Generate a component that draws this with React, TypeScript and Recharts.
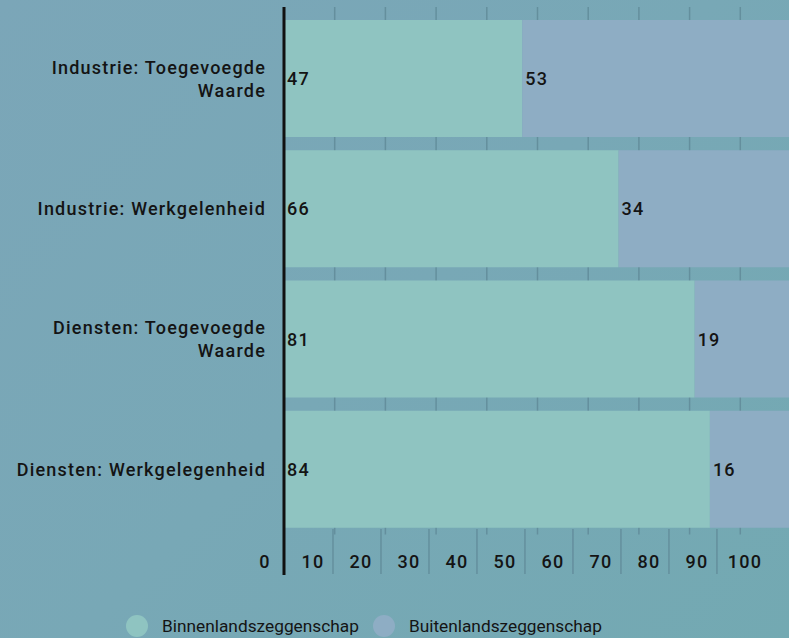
import React from 'react';
import { BarChart, Bar, XAxis, YAxis, CartesianGrid, LabelList } from 'recharts';

const categories = [
  'Industrie: Toegevoegde Waarde',
  'Industrie: Werkgelenheid',
  'Diensten: Toegevoegde Waarde',
  'Diensten: Werkgelegenheid',
];
const binnenland = [47, 66, 81, 84];
const buitenland = [53, 34, 19, 16];
const xTicks = [0, 10, 20, 30, 40, 50, 60, 70, 80, 90, 100];
const seriesNames = ['Binnenlandszeggenschap', 'Buitenlandszeggenschap'];
const seriesColors = ['#8fc4c1', '#8eadc4'];

const data = categories.map((name, i) => ({
  name,
  binnen: binnenland[i],
  buiten: buitenland[i],
}));

const FONT = 'Roboto, "Noto Sans", sans-serif';
const INK = '#141414';
const GRID = '#648f9d';
const SPACING = 1.2;

let ctx: CanvasRenderingContext2D | null = null;
function textWidth(s: string) {
  if (!ctx) ctx = document.createElement('canvas').getContext('2d');
  if (!ctx) return s.length * 10;
  ctx.font = `500 18px ${FONT}`;
  return ctx.measureText(s).width + s.length * SPACING;
}

function wrap(label: string, maxWidth: number) {
  const words = label.split(' ');
  const lines: string[] = [];
  let cur = '';
  words.forEach((w) => {
    const next = cur ? cur + ' ' + w : w;
    if (cur && textWidth(next) > maxWidth) {
      lines.push(cur);
      cur = w;
    } else {
      cur = next;
    }
  });
  if (cur) lines.push(cur);
  return lines;
}

// grid lines stop where the bottom tick strip starts
const GridLine = (props: any) => {
  const { x1, x2, y1, y2 } = props;
  return <line x1={x1} x2={x2} y1={y1} y2={y2 - 40.5} stroke={GRID} strokeWidth={1.5} />;
};

const CatTick = (props: any) => {
  const { x, y, payload } = props;
  const lines = wrap(String(payload.value), 262);
  const lh = 23;
  const first = y - ((lines.length - 1) * lh) / 2;
  return (
    <text
      textAnchor="end"
      fill={INK}
      fontSize={18}
      fontWeight={500}
      fontFamily={FONT}
      style={{ letterSpacing: `${SPACING}px` }}
    >
      {lines.map((l, i) => (
        <tspan key={i} x={x} y={first + i * lh} dominantBaseline="central">
          {l}
        </tspan>
      ))}
    </text>
  );
};

const AxisTick = (props: any) => {
  const { x, y, payload } = props;
  const v = payload.value;
  return (
    <g>
      <text
        x={x}
        y={y - 37}
        textAnchor="middle"
        fill={INK}
        fontSize={18}
        fontWeight={500}
        fontFamily={FONT}
        style={{ letterSpacing: `${SPACING}px` }}
      >
        {v}
      </text>
      {v > 0 && v < 100 && (
        <line x1={x + 20} x2={x + 20} y1={y - 76} y2={y - 31} stroke={GRID} strokeWidth={1.5} />
      )}
    </g>
  );
};

const ValueLabel = (props: any) => {
  const { x, y, height, value } = props;
  return (
    <text
      x={x + 3}
      y={y + height / 2}
      dominantBaseline="central"
      fill={INK}
      fontSize={18}
      fontWeight={500}
      fontFamily={FONT}
      style={{ letterSpacing: `${SPACING}px` }}
    >
      {value}
    </text>
  );
};

export default function App() {
  return (
    <div
      style={{
        position: 'absolute',
        left: 0,
        top: 0,
        width: 789,
        height: 638,
        overflow: 'hidden',
        background: 'linear-gradient(135deg, #7ba6b8 0%, #78a8b6 50%, #73a9b2 100%)',
        fontFamily: FONT,
      }}
    >
      <BarChart
        width={791}
        height={638}
        data={data}
        layout="vertical"
        margin={{ top: 7, right: 0, bottom: 62, left: 0 }}
        barCategoryGap="5%"
      >
        <CartesianGrid horizontal={false} vertical={GridLine} />
        <XAxis type="number" domain={[0, 100]} ticks={xTicks} hide />
        <XAxis
          xAxisId="lbl"
          type="number"
          domain={[3.96, 109.6]}
          allowDataOverflow
          ticks={xTicks}
          interval={0}
          height={1}
          tickSize={0}
          tickMargin={0}
          axisLine={false}
          tickLine={false}
          tick={<AxisTick />}
        />
        <YAxis
          type="category"
          dataKey="name"
          width={284}
          interval={0}
          axisLine={{ stroke: '#111', strokeWidth: 3 }}
          tickLine={false}
          tickSize={0}
          tickMargin={18}
          padding={{ top: 6.5, bottom: 40.5 }}
          tick={<CatTick />}
        />
        <Bar dataKey="binnen" stackId="a" fill={seriesColors[0]} isAnimationActive={false}>
          <LabelList dataKey="binnen" content={ValueLabel} />
        </Bar>
        <Bar dataKey="buiten" stackId="a" fill={seriesColors[1]} isAnimationActive={false}>
          <LabelList dataKey="buiten" content={ValueLabel} />
        </Bar>
      </BarChart>
      <div style={{ position: 'absolute', left: 126, top: 615, display: 'flex', alignItems: 'center' }}>
        {seriesNames.map((n, i) => (
          <div key={n} style={{ display: 'flex', alignItems: 'center', marginRight: 14 }}>
            <span
              style={{
                display: 'inline-block',
                width: 22,
                height: 22,
                borderRadius: '50%',
                background: seriesColors[i],
                marginRight: 14,
              }}
            />
            <span style={{ fontSize: 17.3, fontWeight: 400, color: INK }}>{n}</span>
          </div>
        ))}
      </div>
    </div>
  );
}
